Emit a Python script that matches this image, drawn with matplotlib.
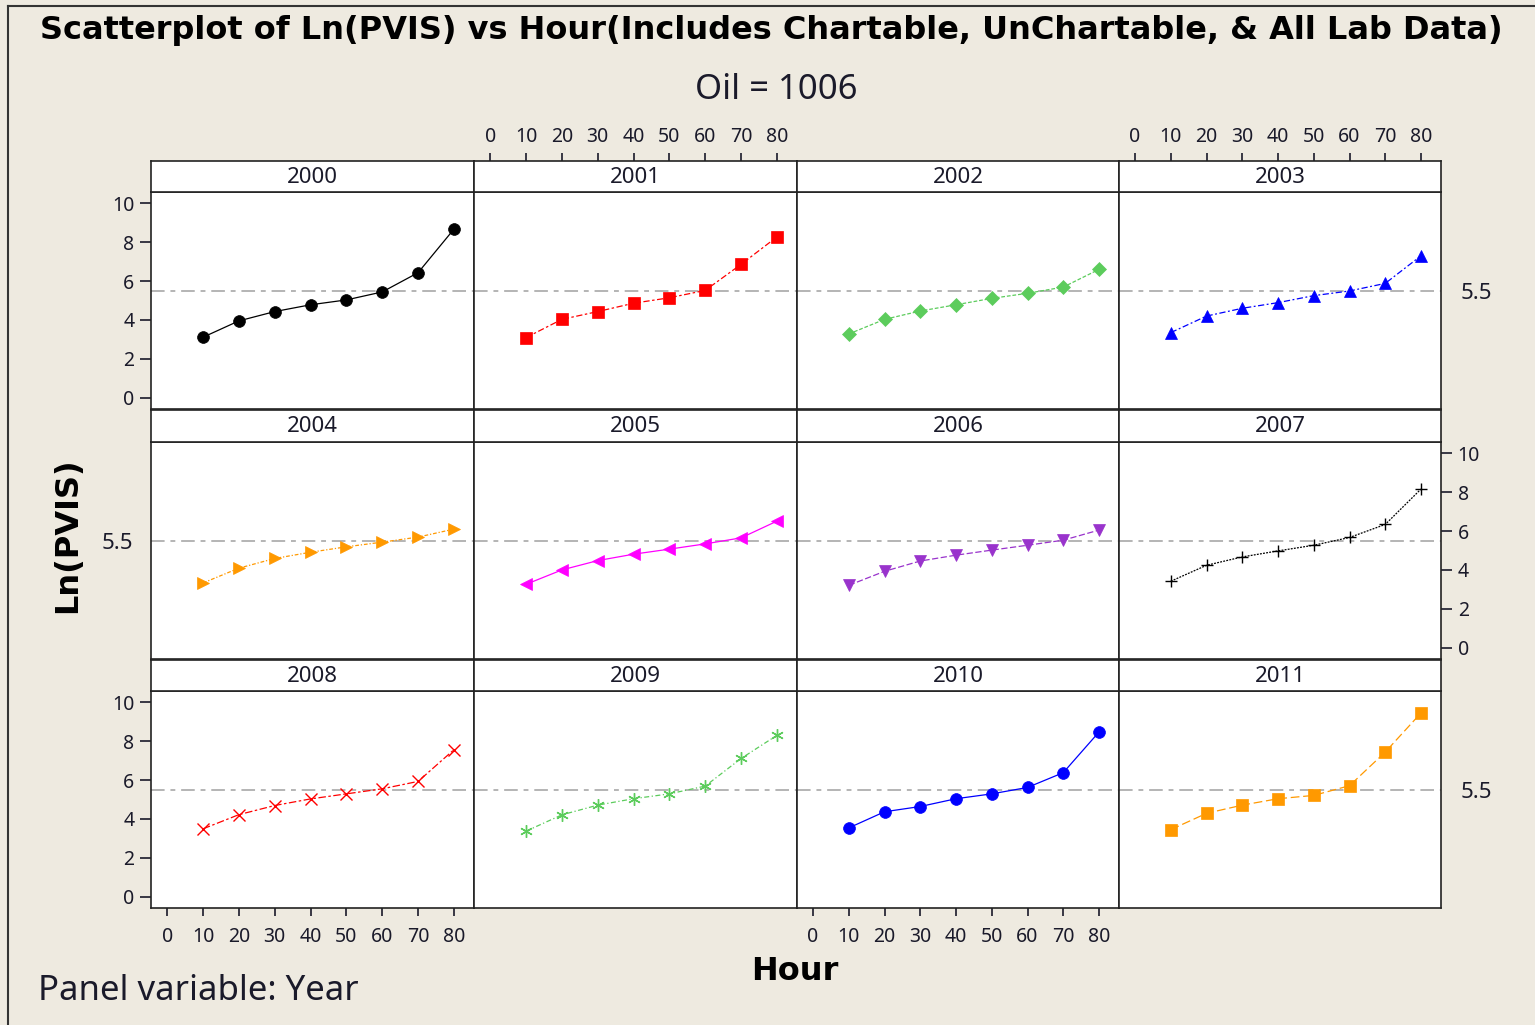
import matplotlib
matplotlib.use("Agg")
import matplotlib.pyplot as plt
from matplotlib.lines import Line2D

# Hours (x) and Ln(PVIS) values
hours = [10, 20, 30, 40, 50, 60, 70, 80]
years = [2000, 2001, 2002, 2003, 2004, 2005, 2006, 2007, 2008, 2009, 2010, 2011]

pvis_2000 = [3.11, 3.95, 4.43, 4.78, 5.03, 5.44, 6.43, 8.67]
pvis_2001 = [3.09, 4.03, 4.43, 4.86, 5.14, 5.52, 6.86, 8.27]
pvis_2002 = [3.28, 4.03, 4.46, 4.78, 5.11, 5.37, 5.69, 6.60]
pvis_2003 = [3.35, 4.20, 4.60, 4.89, 5.25, 5.49, 5.88, 7.30]
pvis_2004 = [3.33, 4.09, 4.59, 4.91, 5.19, 5.43, 5.69, 6.10]
pvis_2005 = [3.26, 4.00, 4.48, 4.81, 5.07, 5.34, 5.65, 6.51]
pvis_2006 = [3.21, 3.93, 4.46, 4.76, 5.02, 5.27, 5.53, 6.05]
pvis_2007 = [3.42, 4.24, 4.67, 4.98, 5.27, 5.67, 6.34, 8.16]
pvis_2008 = [3.49, 4.22, 4.69, 5.03, 5.29, 5.55, 5.93, 7.56]
pvis_2009 = [3.37, 4.21, 4.71, 5.04, 5.29, 5.69, 7.11, 8.30]
pvis_2010 = [3.54, 4.37, 4.64, 5.04, 5.29, 5.62, 6.38, 8.47]
pvis_2011 = [3.45, 4.29, 4.71, 5.04, 5.21, 5.71, 7.44, 9.45]

ref_value = 5.5
y_ticks = [0, 2, 4, 6, 8, 10]
x_ticks = [0, 10, 20, 30, 40, 50, 60, 70, 80]

all_values = [pvis_2000, pvis_2001, pvis_2002, pvis_2003, pvis_2004, pvis_2005,
              pvis_2006, pvis_2007, pvis_2008, pvis_2009, pvis_2010, pvis_2011]

colors = ["black", "#ff0000", "#5ccc5c", "#0000ff", "#ff9900", "#ff00ff",
          "#9933cc", "black", "#ff0000", "#5ccc5c", "#0000ff", "#ff9900"]
markers = ["o", "s", "D", "^", ">", "<", "v", "+", "x", (6, 2, 0), "o", "s"]
msizes = [8.5, 8.5, 7.5, 9, 9, 9, 9, 9, 8.5, 9, 8.5, 8.5]
styles = ["-", (0, (5, 2, 2, 2)), (0, (3, 1.5)), (0, (5, 2, 1.5, 2)),
          (0, (3, 1.5, 1, 1.5)), "-", (0, (5, 2)), (0, (1.5, 1)),
          (0, (6, 2, 2, 2)), (0, (4, 2, 1, 2)), "-", (0, (7, 3))]

BG = "#eeeae0"
W, H = 1535, 1025
FONT = "Noto Sans"
BOLD = "DejaVu Sans"
TXT = "#1a1a2a"

fig = plt.figure(figsize=(W / 100, H / 100), dpi=100, facecolor=BG)

# panel geometry in pixels
col_edges = [151, 474, 797, 1119, 1441]
rows_px = [(161, 192, 409), (410, 442, 659), (660, 691, 908)]  # strip top, data top, data bottom


def frac(x0, y0, x1, y1):
    return [x0 / W, 1 - y1 / H, (x1 - x0) / W, (y1 - y0) / H]


tick_kw = dict(labelsize=14, colors=TXT, width=1.2)

for i, yr in enumerate(years):
    r, c = divmod(i, 4)
    st, dt, db = rows_px[r]
    x0, x1 = col_edges[c], col_edges[c + 1]

    ax = fig.add_axes(frac(x0, dt, x1, db))
    ax.set_facecolor("white")
    ax.axhline(ref_value, color="#b4b4b4", lw=1.4, ls=(0, (7, 3, 2.5, 3)), zorder=1)
    thin = markers[i] in ["+", "x"] or i == 9
    ax.plot(hours, all_values[i], color=colors[i], ls=styles[i], lw=0.9,
            marker=markers[i], ms=msizes[i], mew=1.0 if thin else 0.5,
            mec=colors[i], mfc=colors[i], zorder=3)
    ax.set_xlim(-4.5, 85.6)
    ax.set_ylim(-0.58, 10.58)
    for sp in ax.spines.values():
        sp.set_linewidth(1.2)
        sp.set_color("#222222")
    ax.set_xticks([])
    ax.set_yticks([])

    # y axis labels
    if c == 0:
        if r == 1:
            ax.set_yticks([ref_value])
            ax.set_yticklabels(["5.5"], family=FONT)
            ax.tick_params(axis="y", length=0, pad=13, labelsize=16, colors=TXT)
        else:
            ax.set_yticks(y_ticks)
            ax.set_yticklabels([str(v) for v in y_ticks], family=FONT)
            ax.tick_params(axis="y", pad=4, length=8, **tick_kw)
    if c == 3:
        ax.yaxis.tick_right()
        if r == 1:
            ax.set_yticks(y_ticks)
            ax.set_yticklabels([str(v) for v in y_ticks], family=FONT)
            ax.tick_params(axis="y", left=False, right=True, pad=4, length=8, **tick_kw)
        else:
            ax.set_yticks([ref_value])
            ax.set_yticklabels(["5.5"], family=FONT)
            ax.tick_params(axis="y", left=False, right=True, length=0, pad=14,
                           labelsize=16, colors=TXT)

    # bottom x axis
    if r == 2 and c in (0, 2):
        ax.set_xticks(x_ticks)
        ax.set_xticklabels([str(v) for v in x_ticks], family=FONT)
        ax.tick_params(axis="x", pad=8, length=6, **tick_kw)

    # strip with year
    sax = fig.add_axes(frac(x0, st, x1, dt))
    sax.set_facecolor("white")
    sax.set_xlim(-4.5, 85.6)
    sax.set_ylim(0, 1)
    sax.set_yticks([])
    for sp in sax.spines.values():
        sp.set_linewidth(1.2)
        sp.set_color("#222222")
    sax.text(0.5, 0.47, str(yr), transform=sax.transAxes, ha="center", va="center",
             fontsize=16, family=FONT, color=TXT)
    if r == 0 and c in (1, 3):
        sax.xaxis.tick_top()
        sax.set_xticks(x_ticks)
        sax.set_xticklabels([str(v) for v in x_ticks], family=FONT)
        sax.tick_params(axis="x", bottom=False, top=True, pad=4, length=6, **tick_kw)
    else:
        sax.set_xticks([])

# frame lines at top and left
fig.add_artist(Line2D([8 / W, 1], [1 - 6 / H, 1 - 6 / H], color="#333333", lw=1.5,
                      transform=fig.transFigure))
fig.add_artist(Line2D([8 / W, 8 / W], [0, 1 - 6 / H], color="#333333", lw=1.5,
                      transform=fig.transFigure))

fig.text(771 / W, 1 - 30 / H,
         "Scatterplot of Ln(PVIS) vs Hour(Includes Chartable, UnChartable, & All Lab Data)",
         ha="center", va="center", fontsize=23, fontweight="bold", family=BOLD)
fig.text(776 / W, 1 - 90 / H, "Oil = 1006", ha="center", va="center", fontsize=25,
         family=FONT, color=TXT)
fig.text(68 / W, 1 - 535 / H, "Ln(PVIS)", ha="center", va="center", rotation=90,
         fontsize=23, fontweight="bold", family=BOLD)
fig.text(795 / W, 1 - 972 / H, "Hour", ha="center", va="center", fontsize=23,
         fontweight="bold", family=BOLD)
fig.text(38 / W, 1 - 991 / H, "Panel variable: Year", ha="left", va="center",
         fontsize=25, family=FONT, color=TXT)

fig.savefig("out.png", dpi=100, facecolor=BG)
